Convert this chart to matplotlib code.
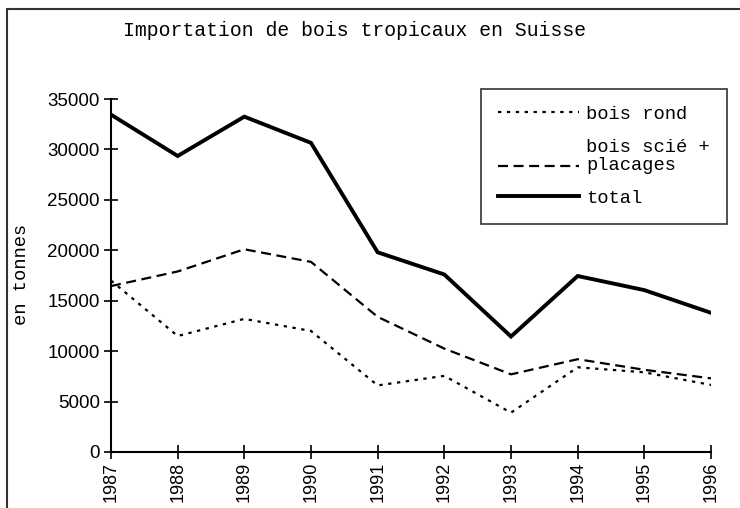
import matplotlib
matplotlib.use("Agg")
import numpy as np
import matplotlib.pyplot as plt
from matplotlib.patches import Rectangle
from matplotlib.legend_handler import HandlerLine2D

years = [1987, 1988, 1989, 1990, 1991, 1992, 1993, 1994, 1995, 1996]
bois_rond = [17000, 11500, 13200, 12000, 6600, 7550, 3900, 8400, 7900, 6650]
bois_scie = [16450, 17900, 20100, 18850, 13400, 10250, 7700, 9200, 8150, 7300]
total = [33450, 29350, 33250, 30650, 19800, 17600, 11450, 17450, 16050, 13800]
yticks = [0, 5000, 10000, 15000, 20000, 25000, 30000, 35000]

title = "Importation de bois tropicaux en Suisse"
ylabel = "en tonnes"
labels = ["bois rond", "bois scié +\nplacages", "total"]

mono = "Liberation Mono"
sans = "Liberation Sans"


class ShiftedLine(HandlerLine2D):
    def __init__(self, dy, **kw):
        super().__init__(**kw)
        self.dy = dy

    def create_artists(self, legend, orig_handle, xdescent, ydescent, width,
                       height, fontsize, trans):
        arts = super().create_artists(legend, orig_handle, xdescent, ydescent,
                                      width, height, fontsize, trans)
        for a in arts:
            a.set_ydata(np.asarray(a.get_ydata(), dtype=float) - self.dy)
        return arts


fig = plt.figure(figsize=(7.4, 5.08), dpi=100)
ax = fig.add_axes([111/740, 1-452/508, 600/740, 353/508])

l1, = ax.plot(years, bois_rond, color="black", lw=1.6, linestyle=(0, (1.5, 2.5)))
l2, = ax.plot(years, bois_scie, color="black", lw=1.6, linestyle=(0, (4.5, 2.5)))
l3, = ax.plot(years, total, color="black", lw=2.8, solid_joinstyle="miter")

ax.set_xlim(years[0], years[-1])
ax.set_ylim(0, 35000)
ax.set_xticks(years)
ax.set_xticklabels([str(y) for y in years], rotation=90, fontfamily=sans, fontsize=13)
ax.set_yticks(yticks)
ax.set_yticklabels([str(v) for v in yticks], fontfamily=sans, fontsize=13.5)
ax.tick_params(axis="both", direction="inout", length=10, width=1.2, color="black")
ax.tick_params(axis="y", pad=3)
ax.tick_params(axis="x", pad=2)

for s in ["top", "right"]:
    ax.spines[s].set_visible(False)
for s in ["left", "bottom"]:
    ax.spines[s].set_linewidth(1.5)
    ax.spines[s].set_color("black")

fig.text(22/740, 1-274/508, ylabel, fontfamily=mono, fontsize=13.5,
         rotation=90, ha="center", va="center")

fig.text(355/740, 1-30/508, title, fontfamily=mono, fontsize=14.2, ha="center", va="center")

leg = ax.legend([l1, l2, l3], labels, loc="upper right",
                bbox_to_anchor=(727/740, 1-89/508), bbox_transform=fig.transFigure,
                borderaxespad=0, fancybox=False, frameon=True, edgecolor="black",
                prop={"family": mono, "size": 13.5}, handlelength=4.3,
                handletextpad=0.4, labelspacing=0.85, borderpad=0.9,
                handler_map={l2: ShiftedLine(6.8)})
leg.get_frame().set_linewidth(1.2)
for t in leg.get_texts():
    t.set_linespacing(1.05)

frame = Rectangle((7/740, -0.1), 1.0, 1 - 9/508 + 0.1, transform=fig.transFigure,
                  fill=False, edgecolor="#333333", lw=1.5, clip_on=False)
fig.patches.append(frame)

fig.savefig("out.png", dpi=100)
